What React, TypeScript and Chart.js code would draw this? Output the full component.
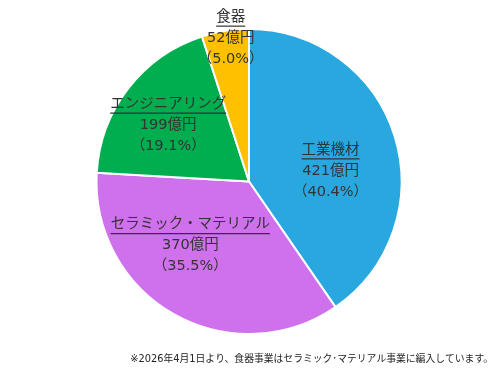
import React, { useEffect, useRef } from "react";
import { Chart, registerables } from "chart.js";

Chart.register(...registerables);

const categories = ["工業機材", "セラミック・マテリアル", "エンジニアリング", "食器"];
const values = [421, 370, 199, 52];
const amountLabels = ["421億円", "370億円", "199億円", "52億円"];
const percentLabels = ["（40.4%）", "（35.5%）", "（19.1%）", "（5.0%）"];
const colors = ["#29A8E0", "#CF70EC", "#00AE4F", "#FFC000"];
// label offsets relative to pie center, in units of radius
const labelOffsets = [
  [0.535, -0.07],
  [-0.385, 0.42],
  [-0.53, -0.37],
  [-0.12, -0.94],
];
const footnote = "※2026年4月1日より、食器事業はセラミック･マテリアル事業に編入しています。";

const FONT = '"DejaVu Sans", "Noto Sans CJK JP", sans-serif';

const labelPlugin = {
  id: "pieLabels",
  afterDraw(chart: any) {
    const ctx = chart.ctx;
    const meta = chart.getDatasetMeta(0);
    const arc0 = meta.data[0];
    const cx = arc0.x;
    const cy = arc0.y;
    const r = arc0.outerRadius;
    ctx.save();
    ctx.fillStyle = "#333333";
    ctx.strokeStyle = "#333333";
    ctx.textAlign = "center";
    ctx.textBaseline = "middle";
    ctx.font = `14.5px ${FONT}`;
    const lh = 21;
    categories.forEach((c, i) => {
      const x = cx + labelOffsets[i][0] * r;
      const y = cy + labelOffsets[i][1] * r;
      const lines = [c, amountLabels[i], percentLabels[i]];
      lines.forEach((t, j) => {
        const yy = y + (j - 1) * lh;
        ctx.fillText(t, x, yy);
        if (j === 0) {
          const w = ctx.measureText(t).width;
          ctx.lineWidth = 1.2;
          ctx.beginPath();
          ctx.moveTo(x - w / 2, yy + 9);
          ctx.lineTo(x + w / 2, yy + 9);
          ctx.stroke();
        }
      });
    });
    ctx.font = `9.8px ${FONT}`;
    ctx.textAlign = "right";
    ctx.fillStyle = "#222222";
    ctx.fillText(footnote, chart.width - 7, 359);
    ctx.restore();
  },
};

export default function App() {
  const ref = useRef<HTMLCanvasElement>(null);
  useEffect(() => {
    document.body.style.margin = "0";
    const chart = new Chart(ref.current!, {
      type: "pie",
      data: {
        labels: categories,
        datasets: [
          {
            data: values,
            backgroundColor: colors,
            borderColor: "#ffffff",
            borderWidth: 2,
          },
        ],
      },
      options: {
        responsive: false,
        animation: false,
        layout: { padding: { top: 28, bottom: 42, right: 2 } },
        plugins: {
          legend: { display: false },
          tooltip: { enabled: false },
        },
      },
      plugins: [labelPlugin],
    });
    return () => chart.destroy();
  }, []);
  return (
    <div style={{ width: 500, height: 377, background: "#fff" }}>
      <canvas ref={ref} width={500} height={377} />
    </div>
  );
}
